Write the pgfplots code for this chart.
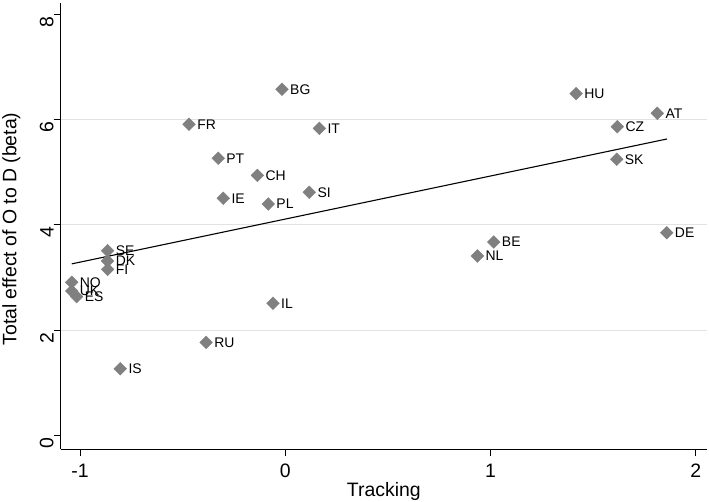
\documentclass[border=0pt]{standalone}
\usepackage{fontspec}
\setmainfont{Liberation Sans}
\usepackage{pgfplots}
\usepackage{pgfplotstable}
\pgfplotsset{compat=1.18}
\usetikzlibrary{calc}
\definecolor{mk}{RGB}{128,128,128}
\definecolor{gridc}{RGB}{226,226,226}

\pgfplotstableread{
x y label
-0.016 6.573 BG
1.417 6.490 HU
1.813 6.118 AT
-0.469 5.909 FR
0.166 5.833 IT
1.618 5.863 CZ
-0.327 5.264 PT
1.615 5.245 SK
-0.136 4.941 CH
0.117 4.619 SI
-0.302 4.505 IE
-0.083 4.397 PL
1.016 3.676 BE
1.859 3.852 DE
0.936 3.410 NL
-0.866 3.510 SE
-0.866 3.315 DK
-0.866 3.157 FI
-1.041 2.911 NO
-1.041 2.746 UK
-1.017 2.638 ES
-0.060 2.512 IL
-0.386 1.772 RU
-0.804 1.271 IS
}\pts

\begin{document}
\begin{tikzpicture}
\begin{axis}[
  scale only axis, width=646.3bp, height=446bp,
  xmin=-1.0945, xmax=2.055, ymin=-0.252, ymax=8.21,
  axis x line*=bottom, axis y line*=left,
  axis line style={line width=0.8bp, black},
  xtick={-1,0,1,2}, ytick={0,2,4,6,8},
  tick align=outside, major tick length=7bp,
  every tick/.style={line width=0.8bp, black},
  /pgf/number format/assume math mode=true,
  ticklabel style={font=\fontsize{19.5}{20}\selectfont},
  xticklabel style={anchor=base, inner sep=0pt, yshift=-21.7bp},
  yticklabel style={rotate=90, anchor=south, inner sep=0pt, xshift=-7.7bp},
  clip=false,
]
\addplot[gridc, line width=0.8bp, forget plot] coordinates {(-1.0945,2) (2.055,2)};
\addplot[gridc, line width=0.8bp, forget plot] coordinates {(-1.0945,4) (2.055,4)};
\addplot[gridc, line width=0.8bp, forget plot] coordinates {(-1.0945,6) (2.055,6)};
\addplot[only marks, mark=square*, mark size=4.5bp,
  mark options={rotate=45, fill=mk, draw=mk},
  point meta=explicit symbolic,
  nodes near coords,
  every node near coord/.append style={anchor=west, inner sep=0pt, xshift=8bp,
    font=\fontsize{14}{15}\selectfont, text=black}]
  table[x=x, y=y, meta=label] {\pts};
\addplot[black, line width=1.1bp] coordinates {(-1.041,3.26) (1.860,5.63)};
\end{axis}
\node[anchor=base, font=\fontsize{19.5}{20}\selectfont] at ($(current axis.south)+(0,-47.3bp)$) {Tracking};
\node[rotate=90, anchor=base, font=\fontsize{19.5}{20}\selectfont] at ($(current axis.west)+(-44.2bp,-3bp)$) {Total effect of O to D (beta)};
\pgfresetboundingbox
\path[use as bounding box] ($(current axis.south west)+(-60.7bp,-53bp)$) rectangle ($(current axis.north east)+(2bp,3bp)$);
\end{tikzpicture}
\end{document}
